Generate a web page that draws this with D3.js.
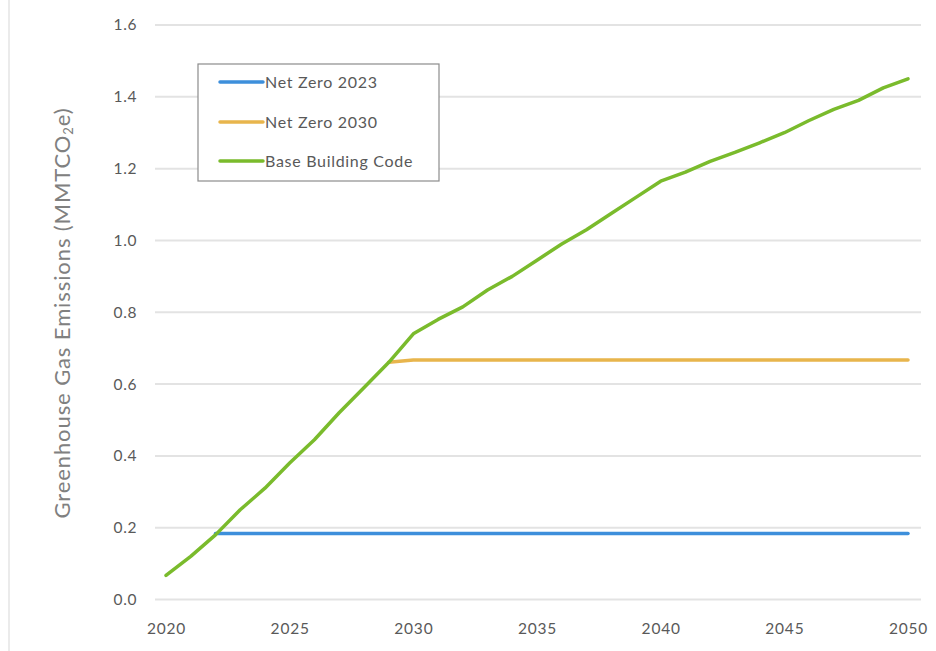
<!DOCTYPE html>
<html><head><meta charset="utf-8">
<script src="https://cdn.jsdelivr.net/npm/d3@7"></script>
<style>body{margin:0;background:#fff;} text{font-family:Lato,"Open Sans",sans-serif;}</style>
</head><body>
<svg id="c" width="936" height="651"></svg>
<script>
const years = d3.range(2020, 2051);
const baseBuildingCode = [0.067,0.12,0.18,0.25,0.31,0.38,0.445,0.52,0.59,0.66,0.74,0.78,0.815,0.862,0.90,0.945,0.99,1.03,1.075,1.12,1.165,1.19,1.22,1.245,1.272,1.30,1.334,1.365,1.39,1.425,1.45];
const netZero2023Years = d3.range(2022, 2051);
const netZero2023 = netZero2023Years.map(() => 0.184);
const netZero2030Years = d3.range(2029, 2051);
const netZero2030 = [0.661].concat(d3.range(2030, 2051).map(() => 0.667));
const yTicks = [0,0.2,0.4,0.6,0.8,1.0,1.2,1.4,1.6];
const xTicks = [2020,2025,2030,2035,2040,2045,2050];
const seriesNames = ["Net Zero 2023","Net Zero 2030","Base Building Code"];
const colors = ["#3d8fdb","#e8b54c","#7abb2c"];

const svg = d3.select("#c");
const x = d3.scaleLinear().domain([2020,2050]).range([166,908]);
const y = d3.scaleLinear().domain([0,1.6]).range([599.5,25]);

// left frame line
svg.append("line").attr("x1",9).attr("x2",9).attr("y1",0).attr("y2",651).attr("stroke","#e4e4e4").attr("stroke-width",1.5);

// gridlines
svg.append("g").selectAll("line").data(yTicks).join("line")
  .attr("x1",155).attr("x2",921).attr("y1",d=>y(d)).attr("y2",d=>y(d))
  .attr("stroke","#e3e3e3").attr("stroke-width",2);

// y axis labels
const yAxis = d3.axisLeft(y).tickValues(yTicks).tickFormat(d3.format(".1f")).tickSize(0).tickPadding(0);
const gy = svg.append("g").attr("transform","translate(137,0)").call(yAxis);
gy.select(".domain").remove();
gy.selectAll("text").attr("font-size",15.5).attr("fill","#595959").attr("font-family","Lato,sans-serif").attr("letter-spacing",0.6);

// x axis labels
const xAxis = d3.axisBottom(x).tickValues(xTicks).tickFormat(d3.format("d")).tickSize(0).tickPadding(0);
const gx = svg.append("g").attr("transform","translate(0,623)").call(xAxis);
gx.select(".domain").remove();
gx.selectAll("text").attr("font-size",15.5).attr("fill","#595959").attr("font-family","Lato,sans-serif").attr("letter-spacing",0.8);

// y title
svg.append("text").attr("transform","translate(70,313) rotate(-90)").attr("text-anchor","middle")
  .attr("font-size",22).attr("fill","#808080").attr("letter-spacing",0.9)
  .html('Greenhouse Gas Emissions (MMTCO<tspan font-size="13" dy="3">2</tspan><tspan dy="-3">e)</tspan>');

const line = d3.line().x(d=>x(d[0])).y(d=>y(d[1]));
const data = [
  d3.zip(netZero2023Years, netZero2023),
  d3.zip(netZero2030Years, netZero2030),
  d3.zip(years, baseBuildingCode)
];
data.forEach((d,i)=>{
  svg.append("path").datum(d).attr("d",line).attr("fill","none")
    .attr("stroke",colors[i]).attr("stroke-width",3.5).attr("stroke-linejoin","round").attr("stroke-linecap","round");
});

// legend
svg.append("rect").attr("x",198).attr("y",64).attr("width",241).attr("height",117)
  .attr("fill","#fff").attr("stroke","#8c8c8c").attr("stroke-width",1.2);
const rows = [82,122,161];
seriesNames.forEach((n,i)=>{
  svg.append("line").attr("x1",220).attr("x2",263).attr("y1",rows[i]).attr("y2",rows[i])
    .attr("stroke",colors[i]).attr("stroke-width",3.5).attr("stroke-linecap","round");
  svg.append("text").attr("x",265).attr("y",rows[i]+5.5).attr("font-size",16).attr("letter-spacing",0.7).attr("fill","#595959").text(n);
});
</script>
</body></html>
